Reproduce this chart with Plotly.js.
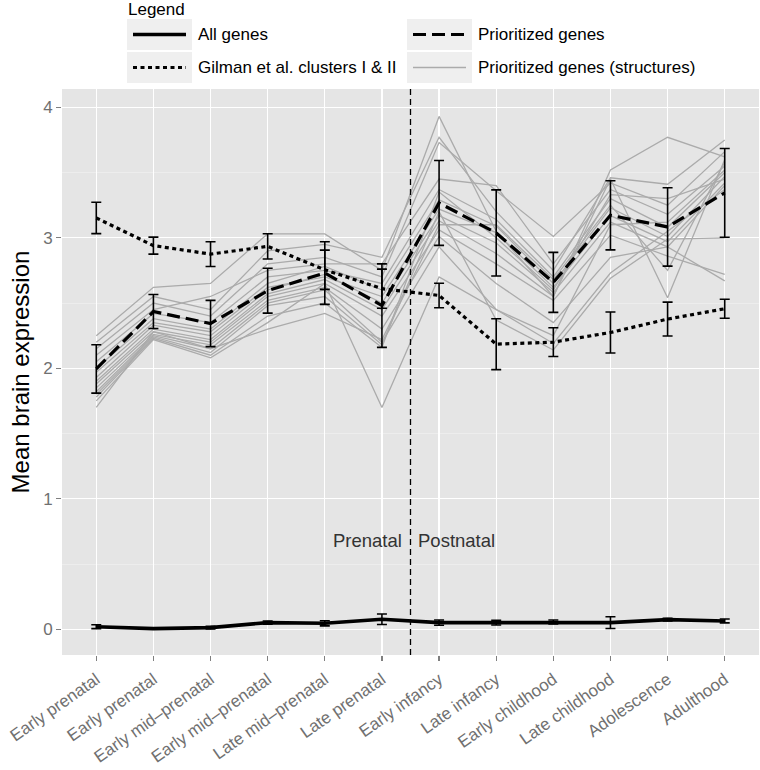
<!DOCTYPE html>
<html>
<head>
<meta charset="utf-8">
<script src="https://cdn.plot.ly/plotly-3.0.1.min.js"></script>
<style>html,body{margin:0;padding:0;background:#fff;}#chart{width:760px;height:770px;}</style>
</head>
<body>
<div id="chart"></div>
<script>
// ---- data ----
const categories = ["Early prenatal","Early prenatal","Early mid–prenatal","Early mid–prenatal","Late mid–prenatal","Late prenatal","Early infancy","Late infancy","Early childhood","Late childhood","Adolescence","Adulthood"];
const allGenes    = [0.020, 0.005, 0.013, 0.051, 0.046, 0.077, 0.051, 0.051, 0.056, 0.051, 0.074, 0.064];
const allGenesErr = [0.015, 0.000, 0.010, 0.012, 0.020, 0.040, 0.020, 0.018, 0.015, 0.045, 0.010, 0.015];
const prioritized    = [1.995, 2.435, 2.343, 2.595, 2.730, 2.480, 3.267, 3.037, 2.658, 3.172, 3.083, 3.344];
const prioritizedErr = [0.185, 0.130, 0.177, 0.172, 0.240, 0.320, 0.325, 0.330, 0.230, 0.265, 0.300, 0.340];
const gilman    = [3.152, 2.940, 2.875, 2.934, 2.755, 2.610, 2.558, 2.185, 2.200, 2.274, 2.377, 2.456];
const gilmanErr = [0.120, 0.065, 0.095, 0.097, 0.150, 0.150, 0.094, 0.195, 0.110, 0.157, 0.130, 0.073];
const structures = [
  [2.25, 2.62, 2.65, 3.03, 3.03, 2.75, 3.93, 3.05, 2.55, 3.52, 3.77, 3.62],
  [2.20, 2.55, 2.45, 2.90, 2.95, 2.85, 3.77, 3.20, 2.75, 3.46, 3.41, 3.75],
  [2.15, 2.50, 2.40, 2.80, 2.85, 2.70, 3.73, 3.36, 3.01, 3.42, 3.25, 3.66],
  [2.10, 2.45, 2.55, 2.75, 2.80, 2.80, 3.45, 3.40, 2.80, 3.37, 3.18, 3.55],
  [2.05, 2.42, 2.35, 2.70, 2.75, 2.65, 3.37, 3.14, 2.70, 3.30, 3.08, 3.50],
  [2.00, 2.38, 2.30, 2.65, 2.78, 2.60, 3.29, 3.09, 2.65, 3.23, 3.01, 3.47],
  [1.97, 2.35, 2.28, 2.62, 2.70, 2.55, 3.22, 3.04, 2.62, 3.17, 2.97, 3.42],
  [1.93, 2.33, 2.25, 2.60, 2.72, 2.50, 3.17, 2.96, 2.58, 3.12, 2.93, 3.40],
  [1.90, 2.30, 2.22, 2.57, 2.68, 2.45, 3.13, 2.88, 2.55, 3.45, 2.54, 3.60],
  [1.88, 2.28, 2.20, 2.55, 2.65, 2.40, 3.06, 2.80, 2.52, 3.02, 2.86, 2.72],
  [1.85, 2.26, 2.18, 2.52, 2.62, 2.30, 3.01, 2.65, 2.35, 2.85, 2.93, 2.67],
  [1.82, 2.25, 2.15, 2.50, 2.60, 2.20, 2.93, 2.45, 2.19, 2.73, 3.05, 3.37],
  [1.80, 2.24, 2.12, 2.48, 2.55, 2.18, 3.20, 2.37, 2.14, 2.69, 2.99, 3.00],
  [1.78, 2.23, 2.10, 2.40, 2.50, 2.16, 3.35, 3.00, 2.60, 3.33, 3.30, 3.45],
  [1.75, 2.22, 2.08, 2.35, 2.65, 1.70, 2.70, 2.45, 2.25, 3.10, 3.12, 3.52],
  [1.70, 2.28, 2.15, 2.30, 2.42, 2.22, 3.10, 3.10, 2.68, 3.25, 2.75, 3.58]
];
const legendLabels = ["All genes", "Prioritized genes", "Gilman et al. clusters I & II", "Prioritized genes (structures)"];
const periodLabels = ["Prenatal", "Postnatal"];

// ---- build ----
const xs = categories.map((_, i) => i);
const traces = [];
structures.forEach(s => traces.push({
  x: xs, y: s, type: 'scatter', mode: 'lines', showlegend: false, hoverinfo: 'skip',
  line: {color: '#ababab', width: 1.3}
}));
traces.push({x: xs, y: gilman, type: 'scatter', mode: 'lines', showlegend: false,
  line: {color: '#000', width: 3.2, dash: '4px,3.5px'},
  error_y: {type: 'data', array: gilmanErr, visible: true, color: '#000', thickness: 1.6, width: 5}});
traces.push({x: xs, y: prioritized, type: 'scatter', mode: 'lines', showlegend: false,
  line: {color: '#000', width: 3.2, dash: '13px,6px'},
  error_y: {type: 'data', array: prioritizedErr, visible: true, color: '#000', thickness: 1.6, width: 5}});
traces.push({x: xs, y: allGenes, type: 'scatter', mode: 'lines', showlegend: false,
  line: {color: '#000', width: 3.6},
  error_y: {type: 'data', array: allGenesErr, visible: true, color: '#000', thickness: 1.6, width: 5}});

// pixel -> paper helpers for the hand-drawn legend
const W = 760, H = 770, ML = 62, MR = 1, MT = 89, MB = 115;
const px = v => (v - ML) / (W - ML - MR);
const py = v => (H - MB - v) / (H - MT - MB);

const shapes = [{
  type: 'line', xref: 'x', yref: 'paper', x0: 5.5, x1: 5.5, y0: 0, y1: 1,
  line: {color: '#000', width: 1.3, dash: '6px,4px'}
}];
const annotations = [
  {xref: 'x', yref: 'y', x: 5.5, y: 0.68, text: periodLabels[0], showarrow: false, xanchor: 'right', xshift: -7, font: {size: 18.5, color: '#333'}},
  {xref: 'x', yref: 'y', x: 5.5, y: 0.68, text: periodLabels[1], showarrow: false, xanchor: 'left', xshift: 5, font: {size: 18.5, color: '#333'}},
  {xref: 'paper', yref: 'paper', x: px(126), y: py(10), text: 'Legend', showarrow: false, xanchor: 'left', yanchor: 'middle', font: {size: 17, color: '#000'}}
];
const keyCols = [127, 407];
const keyRows = [[19, 50], [52, 83]];
const dashes = ['solid', '13px,6px', '4px,3.5px', 'solid'];
const colors = ['#000', '#000', '#000', '#ababab'];
const widths = [3.6, 3.2, 3.2, 1.3];
legendLabels.forEach((lab, k) => {
  const c = k % 2, r = Math.floor(k / 2);
  const x0 = keyCols[c], x1 = x0 + 65, y0 = keyRows[r][0], y1 = keyRows[r][1];
  const ym = (y0 + y1) / 2;
  shapes.push({type: 'rect', xref: 'paper', yref: 'paper', x0: px(x0), x1: px(x1), y0: py(y1), y1: py(y0),
    fillcolor: '#efefef', line: {width: 0}});
  shapes.push({type: 'line', xref: 'paper', yref: 'paper', x0: px(x0 + 6), x1: px(x1 - 6), y0: py(ym), y1: py(ym),
    line: {color: colors[k], width: widths[k], dash: dashes[k]}});
  annotations.push({xref: 'paper', yref: 'paper', x: px(x1 + 4), y: py(ym), text: lab, showarrow: false,
    xanchor: 'left', yanchor: 'middle', font: {size: 17, color: '#000'}});
});

const layout = {
  width: W, height: H,
  margin: {l: ML, r: MR, t: MT, b: MB, pad: 0},
  paper_bgcolor: '#fff', plot_bgcolor: '#e5e5e5',
  font: {family: 'Liberation Sans, Arial, sans-serif'},
  showlegend: false,
  xaxis: {
    range: [-0.6, 11.6], tickvals: xs, ticktext: categories, tickangle: -35,
    showgrid: true, gridcolor: '#ffffff', gridwidth: 1.3, zeroline: false,
    ticks: 'outside', ticklen: 5, tickcolor: '#7f7f7f', tickwidth: 1.2,
    ticklabelstandoff: 2,
    tickfont: {size: 17, color: '#707070'}, showline: false
  },
  yaxis: {
    range: [-0.197, 4.14], tickvals: [0, 1, 2, 3, 4],
    showgrid: true, gridcolor: '#ffffff', gridwidth: 1.3, zeroline: false,
    ticks: 'outside', ticklen: 5, tickcolor: '#7f7f7f', tickwidth: 1.2,
    tickfont: {size: 17, color: '#707070'},
    minor: {dtick: 0.5, tick0: 0, showgrid: true, gridcolor: '#f2f2f2', gridwidth: 0.6, ticks: ''},
    title: {text: 'Mean brain expression', font: {size: 24, color: '#000'}, standoff: 6}
  },
  shapes: shapes,
  annotations: annotations
};
Plotly.newPlot('chart', traces, layout, {displayModeBar: false, staticPlot: true});
</script>
</body>
</html>
